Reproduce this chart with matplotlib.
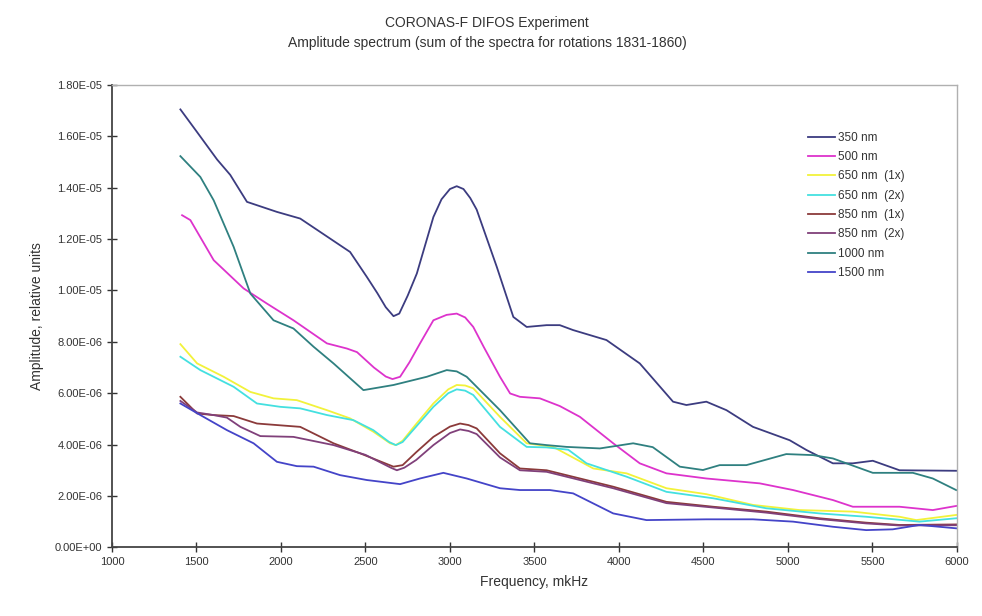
import matplotlib
matplotlib.use("Agg")
import matplotlib.pyplot as plt
from matplotlib.ticker import FuncFormatter, MultipleLocator

plt.rcParams['font.family'] = ['Liberation Sans', 'DejaVu Sans']

labels = ["350 nm", "500 nm", "650 nm  (1x)", "650 nm  (2x)", "850 nm  (1x)",
          "850 nm  (2x)", "1000 nm", "1500 nm"]
colors = ["#3c3c80", "#dd33cc", "#f2f23a", "#44e0e0", "#8b3a3a", "#80407a",
          "#2f8080", "#4444c8"]

f350 = [1405,1500,1622,1700,1799,1976,2114,2232,2409,2508,2570,2620,2666,2700,2750,2804,2902,2950,3000,3040,3080,3120,3158,3277,3375,3454,3572,3650,3728,3926,4123,4250,4320,4399,4517,4636,4793,5010,5109,5266,5384,5502,5660,5995]
v350 = [17.05,16.2,15.1,14.5,13.45,13.06,12.8,12.28,11.5,10.53,9.9,9.35,9.0,9.1,9.8,10.66,12.86,13.55,13.95,14.06,13.95,13.6,13.15,10.92,8.97,8.58,8.65,8.65,8.46,8.07,7.16,6.2,5.67,5.54,5.67,5.34,4.69,4.17,3.79,3.27,3.27,3.37,3.0,2.98]

f500 = [1415,1464,1602,1779,1917,2074,2272,2390,2450,2550,2620,2660,2705,2760,2823,2902,2980,3040,3090,3138,3200,3296,3356,3414,3532,3650,3769,3966,4123,4281,4517,4833,5030,5266,5384,5660,5857,5995]
v500 = [12.93,12.74,11.18,10.08,9.49,8.84,7.94,7.74,7.6,7.0,6.65,6.55,6.64,7.2,7.94,8.84,9.05,9.1,8.95,8.58,7.8,6.64,5.99,5.86,5.8,5.5,5.08,4.05,3.27,2.88,2.68,2.49,2.23,1.84,1.58,1.58,1.45,1.61]

f650a = [1405,1504,1661,1819,1956,2094,2272,2409,2547,2646,2680,2720,2800,2902,2990,3040,3090,3138,3296,3454,3611,3848,4045,4281,4517,4793,5069,5384,5660,5759,5995]
v650a = [7.91,7.16,6.64,6.05,5.8,5.73,5.34,5.02,4.5,4.05,3.98,4.15,4.8,5.6,6.15,6.32,6.3,6.19,5.08,4.05,3.91,3.07,2.88,2.3,2.07,1.65,1.45,1.39,1.19,1.06,1.26]

f650b = [1405,1523,1720,1858,1996,2114,2272,2429,2547,2640,2680,2720,2800,2902,2990,3040,3090,3138,3296,3454,3572,3700,3808,4045,4281,4557,4872,5187,5463,5778,5995]
v650b = [7.42,6.9,6.25,5.6,5.47,5.41,5.15,4.95,4.56,4.1,3.98,4.1,4.7,5.47,6.0,6.15,6.1,5.93,4.69,3.91,3.89,3.8,3.27,2.75,2.16,1.91,1.52,1.32,1.19,1.0,1.13]

f850a = [1405,1504,1600,1720,1858,2114,2311,2468,2666,2720,2800,2902,3000,3060,3110,3158,3296,3414,3572,3769,3966,4281,4557,4872,5187,5463,5660,5995]
v850a = [5.86,5.21,5.15,5.11,4.82,4.69,4.05,3.66,3.14,3.2,3.7,4.3,4.7,4.82,4.76,4.63,3.66,3.07,3.0,2.68,2.36,1.77,1.58,1.39,1.13,0.96,0.87,0.89]

f850b = [1405,1504,1600,1680,1760,1878,2074,2311,2500,2650,2686,2730,2800,2902,3000,3060,3110,3158,3296,3414,3572,3769,3966,4281,4557,4872,5187,5463,5660,5995]
v850b = [5.7,5.25,5.15,5.05,4.69,4.33,4.3,3.98,3.6,3.1,3.0,3.1,3.4,3.98,4.45,4.59,4.53,4.41,3.5,3.0,2.94,2.62,2.3,1.72,1.55,1.35,1.1,0.93,0.85,0.86]

f1000 = [1405,1523,1602,1720,1819,1956,2074,2193,2311,2488,2666,2863,2981,3040,3099,3296,3473,3572,3690,3887,4084,4200,4360,4497,4596,4754,4990,5148,5266,5502,5739,5857,5995]
v1000 = [15.23,14.42,13.51,11.7,9.88,8.84,8.52,7.81,7.16,6.12,6.32,6.64,6.9,6.85,6.64,5.34,4.05,3.98,3.91,3.85,4.05,3.9,3.14,3.01,3.2,3.2,3.63,3.59,3.46,2.9,2.9,2.68,2.23]

f1500 = [1405,1523,1681,1838,1976,2094,2193,2350,2508,2705,2823,2961,3099,3296,3414,3591,3729,3966,4163,4517,4793,5030,5266,5463,5620,5778,5995]
v1500 = [5.6,5.15,4.56,4.05,3.33,3.16,3.14,2.81,2.62,2.46,2.68,2.9,2.68,2.3,2.23,2.23,2.1,1.32,1.06,1.09,1.09,1.0,0.8,0.67,0.7,0.87,0.74]

freqs = [f350, f500, f650a, f650b, f850a, f850b, f1000, f1500]
vals = [v350, v500, v650a, v650b, v850a, v850b, v1000, v1500]

fig = plt.figure(figsize=(9.82, 6.16), dpi=100)
ax = fig.add_axes([0.114, 0.1115, 0.8605, 0.7505])

handles = []
for f, v, c, lab in zip(freqs, vals, colors, labels):
    h, = ax.plot(f, [x * 1e-6 for x in v], color=c, lw=1.3, label=lab,
                 solid_joinstyle='round')
    handles.append(h)

ax.set_xlim(1000, 6000)
ax.set_ylim(0, 1.8e-5)
ax.xaxis.set_major_locator(MultipleLocator(500))
ax.yaxis.set_major_locator(MultipleLocator(2e-6))
ax.yaxis.set_major_formatter(FuncFormatter(lambda y, p: "%.2E" % y))
ax.tick_params(direction='inout', length=7, width=1, labelsize=8, colors='#333333', labelcolor='#333333')

for s in ['top', 'right']:
    ax.spines[s].set_color('#b0b0b0')
    ax.spines[s].set_linewidth(1.0)
for s in ['left', 'bottom']:
    ax.spines[s].set_color('#444444')
    ax.spines[s].set_linewidth(1.3)

ax.set_xlabel("Frequency, mkHz", fontsize=10, color='#333333', labelpad=6)
ax.set_ylabel("Amplitude, relative units", fontsize=10, color='#333333', labelpad=8)

fig.text(0.496, 0.962, "CORONAS-F DIFOS Experiment", ha='center', va='center', fontsize=10, color='#333333')
fig.text(0.496, 0.93, "Amplitude spectrum (sum of the spectra for rotations 1831-1860)", ha='center', va='center', fontsize=10, color='#333333')

leg = fig.legend(handles=handles, loc='upper left', bbox_to_anchor=(803/982, 1 - 127/616),
                 frameon=False, fontsize=8.5, handlelength=2.3, labelspacing=0.62,
                 handletextpad=0.3, borderaxespad=0)
for t in leg.get_texts():
    t.set_color('#333333')

fig.savefig("out.png", dpi=100)
